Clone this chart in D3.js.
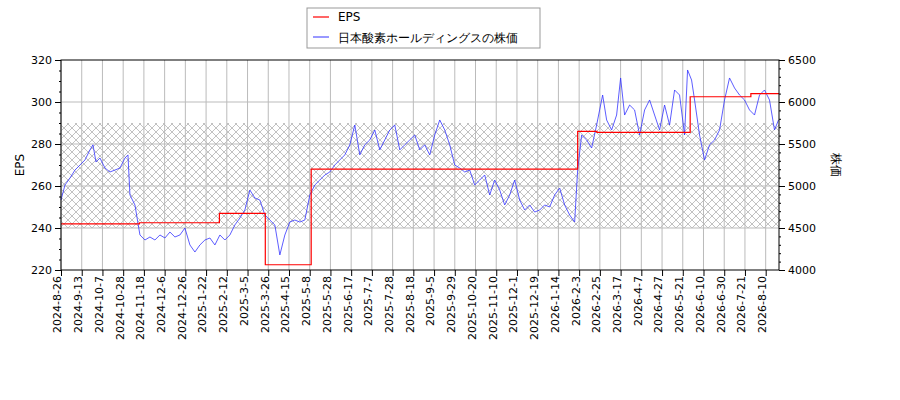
<!DOCTYPE html>
<html><head><meta charset="utf-8">
<script src="https://cdn.jsdelivr.net/npm/d3@7"></script>
<style>body{margin:0;background:#fff}text{font-family:"DejaVu Sans",sans-serif}</style>
</head><body><div id="chart"></div>
<script>
// trading-day index of each tick label (14 days apart)
const tickLabels = ["2024-8-26","2024-9-13","2024-10-7","2024-10-28","2024-11-18","2024-12-6","2024-12-26",
  "2025-1-22","2025-2-12","2025-3-5","2025-3-26","2025-4-15","2025-5-8","2025-5-28","2025-6-17","2025-7-7",
  "2025-7-28","2025-8-18","2025-9-5","2025-9-29","2025-10-20","2025-11-10","2025-12-1","2025-12-19",
  "2026-1-14","2026-2-3","2026-2-25","2026-3-17","2026-4-7","2026-4-27","2026-5-21","2026-6-10","2026-6-30",
  "2026-7-21","2026-8-10"];
const lastDay = 485;

// EPS steps: start day and value
const epsDays = [0, 53, 107, 138, 169, 349, 362, 425, 466];
const epsVals = [242, 242.5, 247, 222.5, 268, 286, 285.5, 302.5, 304];

// stock price samples: pixel-read x position -> price
const priceX = [61,65,70,75,80,85,90,93,96,100,105,110,115,120,125,128,130,135,140,145,150,155,160,165,170,175,180,185,190,195,200,205,210,215,220,225,230,235,240,245,250,255,260,265,270,275,280,285,290,295,300,305,310,315,320,325,330,335,340,345,350,355,360,365,370,375,380,385,390,395,400,405,410,415,420,425,430,435,440,445,450,455,460,465,470,475,480,485,490,495,500,505,510,515,520,525,530,535,540,545,550,555,560,565,570,575,578,582,587,592,597,600,603,607,612,617,621,625,630,635,640,645,650,655,660,665,670,675,680,685,688,692,695,700,705,710,715,720,725,730,735,740,745,750,755,760,765,770,775,779];
const priceVals = [4833,5012,5095,5190,5250,5310,5430,5490,5286,5333,5214,5167,5190,5214,5333,5370,4893,4774,4417,4357,4393,4357,4417,4381,4452,4393,4417,4500,4298,4214,4298,4357,4381,4298,4417,4357,4417,4536,4619,4714,4952,4857,4833,4655,4595,4536,4179,4417,4571,4595,4571,4595,4893,5012,5071,5131,5167,5250,5310,5370,5490,5726,5370,5490,5548,5667,5430,5548,5667,5726,5430,5490,5548,5607,5430,5490,5370,5607,5786,5667,5490,5250,5214,5167,5190,5012,5071,5131,4893,5071,4952,4774,4893,5071,4833,4714,4774,4690,4714,4774,4750,4893,4976,4774,4655,4571,5190,5607,5548,5452,5726,5905,6083,5786,5667,5845,6286,5845,5964,5905,5607,5905,6024,5845,5667,5964,5726,6143,6083,5607,6381,6262,6024,5607,5310,5490,5548,5667,6024,6286,6167,6083,6024,5905,5845,6083,6143,6024,5667,5786];
const priceDays = priceX.map(x => (x - 61) * 14 / 20.74);

const margin = {left: 61, right: 121, top: 60, bottom: 130};
const width = 900, height = 400;
const svg = d3.select("#chart").append("svg").attr("width", width).attr("height", height);

const x = d3.scaleLinear().domain([0, lastDay]).range([margin.left, width - margin.right]);
const y = d3.scaleLinear().domain([220, 320]).range([height - margin.bottom, margin.top]);
const y2 = d3.scaleLinear().domain([4000, 6500]).range([height - margin.bottom, margin.top]);
const tickDays = tickLabels.map((d, i) => i * 14);

// hatch pattern
const pat = svg.append("defs").append("pattern").attr("id", "hatch")
  .attr("patternUnits", "userSpaceOnUse").attr("width", 8).attr("height", 8);
pat.append("path").attr("d", "M0,0L8,8M8,0L0,8").attr("stroke", "#999").attr("stroke-width", 0.6);
svg.append("rect").attr("x", x(0)).attr("width", x(lastDay) - x(0))
  .attr("y", y(290)).attr("height", y(240) - y(290)).attr("fill", "url(#hatch)");

// grid
const grid = svg.append("g").attr("stroke", "#bbb").attr("stroke-width", 1);
tickDays.forEach(d => grid.append("line").attr("x1", x(d)).attr("x2", x(d)).attr("y1", y(220)).attr("y2", y(320)));
d3.range(240, 320, 20).forEach(v => grid.append("line").attr("x1", x(0)).attr("x2", x(lastDay)).attr("y1", y(v)).attr("y2", y(v)));

// lines
svg.append("path").datum(priceDays.map((d, i) => [d, priceVals[i]]))
  .attr("fill", "none").attr("stroke", "#3333ff").attr("stroke-width", 0.8)
  .attr("d", d3.line().x(d => x(d[0])).y(d => y2(d[1])));
const epsPts = epsDays.map((d, i) => [d, epsVals[i]]).concat([[lastDay, epsVals[epsVals.length - 1]]]);
svg.append("path").datum(epsPts).attr("fill", "none").attr("stroke", "red").attr("stroke-width", 1.2)
  .attr("d", d3.line().curve(d3.curveStepAfter).x(d => x(d[0])).y(d => y(d[1])));

// frame
svg.append("rect").attr("x", x(0)).attr("y", y(320)).attr("width", x(lastDay) - x(0))
  .attr("height", y(220) - y(320)).attr("fill", "none").attr("stroke", "#000");

// axes
const xAxis = svg.append("g").attr("transform", `translate(0,${y(220)})`)
  .call(d3.axisBottom(x).tickValues(tickDays).tickFormat((d, i) => tickLabels[i]).tickSizeOuter(0));
xAxis.selectAll("text").attr("transform", "rotate(-90)").attr("text-anchor", "end")
  .attr("x", -6).attr("y", -4).attr("dy", "0.35em").attr("font-size", 11);
const yAxis = svg.append("g").attr("transform", `translate(${x(0)},0)`)
  .call(d3.axisLeft(y).tickValues(d3.range(220, 321, 20)).tickSizeOuter(0));
svg.append("g").attr("transform", `translate(${x(0)},0)`)
  .call(d3.axisLeft(y).tickValues(d3.range(220, 321, 5)).tickSize(2).tickFormat(""));
const y2Axis = svg.append("g").attr("transform", `translate(${x(lastDay)},0)`)
  .call(d3.axisRight(y2).tickValues(d3.range(4000, 6501, 500)).tickFormat(d3.format("d")).tickSizeOuter(0));
svg.append("g").attr("transform", `translate(${x(lastDay)},0)`)
  .call(d3.axisRight(y2).tickValues(d3.range(4000, 6501, 100)).tickSize(2).tickFormat(""));
svg.selectAll(".domain").remove();
[yAxis, y2Axis].forEach(a => a.selectAll("text").attr("font-size", 11).attr("fill", "#000"));

svg.append("text").attr("transform", `translate(24,${(y(220) + y(320)) / 2}) rotate(-90)`)
  .attr("text-anchor", "middle").attr("font-size", 12).text("EPS");
svg.append("text").attr("transform", `translate(832,${(y(220) + y(320)) / 2}) rotate(90)`)
  .attr("text-anchor", "middle").attr("font-size", 12).text("株価");

// legend
const lg = svg.append("g").attr("transform", "translate(307,8)");
lg.append("rect").attr("width", 233).attr("height", 40).attr("fill", "#fff").attr("stroke", "#999");
lg.append("line").attr("x1", 6).attr("x2", 22).attr("y1", 9).attr("y2", 9).attr("stroke", "red").attr("stroke-width", 1.2);
lg.append("text").attr("x", 31).attr("y", 13).attr("font-size", 12).text("EPS");
lg.append("line").attr("x1", 6).attr("x2", 22).attr("y1", 29).attr("y2", 29).attr("stroke", "#3333ff");
lg.append("text").attr("x", 31).attr("y", 34).attr("font-size", 12).text("日本酸素ホールディングスの株価");
</script></body></html>
